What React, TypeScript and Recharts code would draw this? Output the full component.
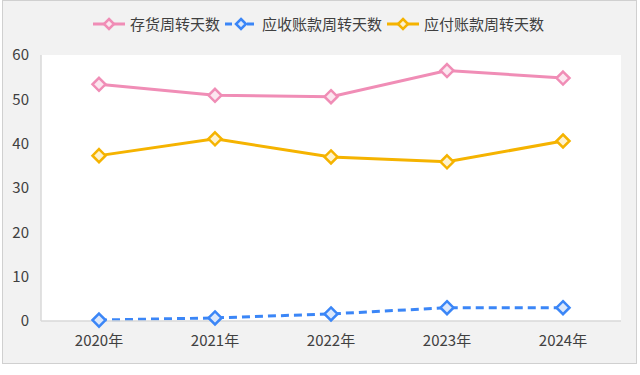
import React from 'react';
import { LineChart, Line, XAxis, YAxis, CartesianGrid } from 'recharts';

const years = ['2020年', '2021年', '2022年', '2023年', '2024年'];
const inventoryDays = [53.4, 50.9, 50.6, 56.5, 54.8];
const receivableDays = [0.2, 0.7, 1.6, 3.0, 3.0];
const payableDays = [37.3, 41.1, 37.0, 35.9, 40.6];
const yTicks = [0, 10, 20, 30, 40, 50, 60];

const seriesInfo = [
  { key: 'inv', name: '存货周转天数', color: '#F08DB6', fill: '#FCE6EF', dash: undefined as string | undefined },
  { key: 'rec', name: '应收账款周转天数', color: '#3B86F7', fill: '#DCE8FB', dash: '8 5' },
  { key: 'pay', name: '应付账款周转天数', color: '#F5B300', fill: '#FEF2CE', dash: undefined as string | undefined },
];

const data = years.map((y, i) => ({
  year: y,
  inv: inventoryDays[i],
  rec: receivableDays[i],
  pay: payableDays[i],
}));

const FONT = '"Noto Sans CJK SC", "Noto Sans", sans-serif';

const makeDot = (color: string, fill: string) => (props: any) => {
  const { cx, cy, index } = props;
  if (cx == null || cy == null) return <g key={index} />;
  const r = 6.5;
  return (
    <path
      key={index}
      d={`M${cx},${cy - r} L${cx + r},${cy} L${cx},${cy + r} L${cx - r},${cy} Z`}
      fill={fill}
      stroke={color}
      strokeWidth={2.5}
    />
  );
};

const LegendBox = () => (
  <div style={{ position: 'absolute', left: 0, top: 14, width: 640, display: 'flex', justifyContent: 'center', fontFamily: FONT, fontSize: 15, color: '#404040', lineHeight: '20px' }}>
    {seriesInfo.map((s) => (
      <div key={s.key} style={{ display: 'flex', alignItems: 'center', marginRight: 4 }}>
        <svg width={34} height={16} style={{ marginRight: 4 }}>
          <line x1={1} y1={8} x2={33} y2={8} stroke={s.color} strokeWidth={3} strokeDasharray={s.dash ? '7 4' : undefined} />
          <path d="M17,3 L22,8 L17,13 L12,8 Z" fill={s.fill} stroke={s.color} strokeWidth={2.5} />
        </svg>
        <span>{s.name}</span>
      </div>
    ))}
  </div>
);

export default function App() {
  return (
    <div style={{ position: 'fixed', left: 0, top: 0, width: 640, height: 375, background: '#FFFFFF' }}>
      <div style={{ position: 'absolute', left: 2, top: 0, width: 635, height: 364, background: '#F2F2F2', boxSizing: 'border-box', border: '1px solid #D0D0D0' }} />
      <div style={{ position: 'absolute', left: 0, top: 0 }}>
        <LineChart width={640} height={375} data={data} margin={{ top: 55, right: 19, bottom: 24, left: 0 }}>
          <CartesianGrid fill="#FFFFFF" horizontal={false} vertical={false} />
          <XAxis
            dataKey="year"
            padding={{ left: 58, right: 58 }}
            axisLine={{ stroke: '#D9D9D9', strokeWidth: 1.5 }}
            tickLine={false}
            height={30}
            tick={{ fill: '#404040', fontSize: 15, fontFamily: FONT }}
            tickMargin={8}
          />
          <YAxis
            domain={[0, 60]}
            ticks={yTicks}
            width={41}
            axisLine={{ stroke: '#D9D9D9', strokeWidth: 1.5 }}
            tickLine={false}
            tick={{ fill: '#404040', fontSize: 15, fontFamily: FONT }}
            tickMargin={6}
          />
          {seriesInfo.map((s) => (
            <Line
              key={s.key}
              dataKey={s.key}
              name={s.name}
              stroke={s.color}
              strokeWidth={3}
              strokeDasharray={s.dash}
              dot={makeDot(s.color, s.fill)}
              activeDot={false}
              isAnimationActive={false}
            />
          ))}
        </LineChart>
        <LegendBox />
      </div>
    </div>
  );
}
